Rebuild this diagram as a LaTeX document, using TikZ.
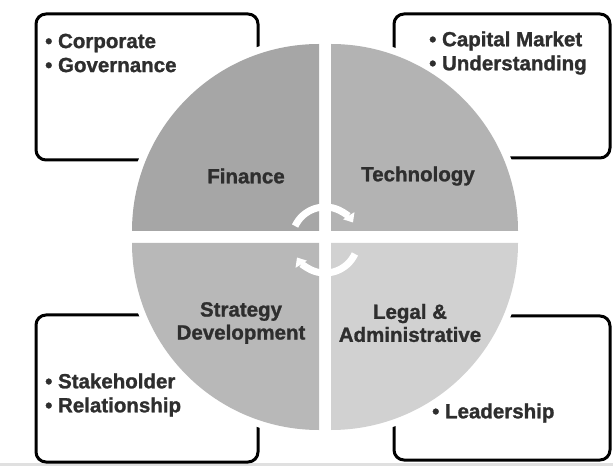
\documentclass[tikz,border=0pt]{standalone}
\usepackage{fontspec}
\setmainfont{Liberation Sans}
\newfontfamily\heavysans{Liberation Sans Bold}[FakeBold=1.2]
\usetikzlibrary{arrows.meta,calc}
\definecolor{txt}{HTML}{2E2E2E}
\definecolor{qfin}{HTML}{A6A6A6}
\definecolor{qtec}{HTML}{B3B3B3}
\definecolor{qstr}{HTML}{B8B8B8}
\definecolor{qleg}{HTML}{D1D1D1}
\tikzset{
  infobox/.style={draw=black,line width=3pt,rounded corners=10pt},
  ring/.style={draw=white,line width=14pt},
  qlabel/.style={text=txt,font=\heavysans\fontsize{20.5}{23}\selectfont,align=center,inner sep=0pt},
  blist/.style={text=txt,font=\heavysans\fontsize{20.5}{24}\selectfont,align=left,inner sep=0pt,anchor=west},
  cyc/.style={draw=white,line width=7pt,-{Triangle[width=13pt,length=8pt]}}
}
\begin{document}
\begin{tikzpicture}[x=1pt,y=1pt]
\useasboundingbox (0,0) rectangle (613,466);
\fill[white] (0,0) rectangle (613,466);
\fill[black!12] (0,0) rectangle (613,3);
% boxes
\draw[infobox] (36,306) rectangle (258,452);
\draw[infobox] (394,308) rectangle (610,452);
\draw[infobox] (36,4) rectangle (258,151);
\draw[infobox] (394,6) rectangle (610,150);
% quadrant centres
\coordinate (C) at (325,229);
\coordinate (qTL) at (319,235);
\coordinate (qTR) at (331,235);
\coordinate (qBL) at (319,223);
\coordinate (qBR) at (331,223);
% white halo
\path[ring] (qTL) -- ++(180:187) arc[start angle=180,end angle=90,radius=187] -- cycle;
\path[ring] (qTR) -- ++(90:187) arc[start angle=90,end angle=0,radius=187] -- cycle;
\path[ring] (qBL) -- ++(270:187) arc[start angle=270,end angle=180,radius=187] -- cycle;
\path[ring] (qBR) -- ++(0:187) arc[start angle=0,end angle=-90,radius=187] -- cycle;
% quadrants
\fill[qfin] (qTL) -- ++(180:187) arc[start angle=180,end angle=90,radius=187] -- cycle;
\fill[qtec] (qTR) -- ++(90:187) arc[start angle=90,end angle=0,radius=187] -- cycle;
\fill[qstr] (qBL) -- ++(270:187) arc[start angle=270,end angle=180,radius=187] -- cycle;
\fill[qleg] (qBR) -- ++(0:187) arc[start angle=0,end angle=-90,radius=187] -- cycle;
% cycle arrows
\coordinate (A) at (325,226);
\draw[cyc] ($(A)+(155:33)$) arc[start angle=155,end angle=32,radius=33];
\draw[cyc] ($(A)+(-25:33)$) arc[start angle=-25,end angle=-148,radius=33];
% quadrant labels
\node[qlabel] (fin) at (246,290) {Finance};
\node[qlabel] (tec) at (418,290) {Technology};
\node[qlabel] (str) at (241,143) {Strategy\\Development};
\node[qlabel] (leg) at (410,143) {Legal \&\\Administrative};
% box texts
\node[blist] (b1) at (45,413) {• Corporate\\• Governance};
\node[blist] (b2) at (429,413) {• Capital Market\\• Understanding};
\node[blist] (b3) at (45,71) {• Stakeholder\\• Relationship};
\node[blist] (b4) at (432,53) {• Leadership};
\end{tikzpicture}
\end{document}
